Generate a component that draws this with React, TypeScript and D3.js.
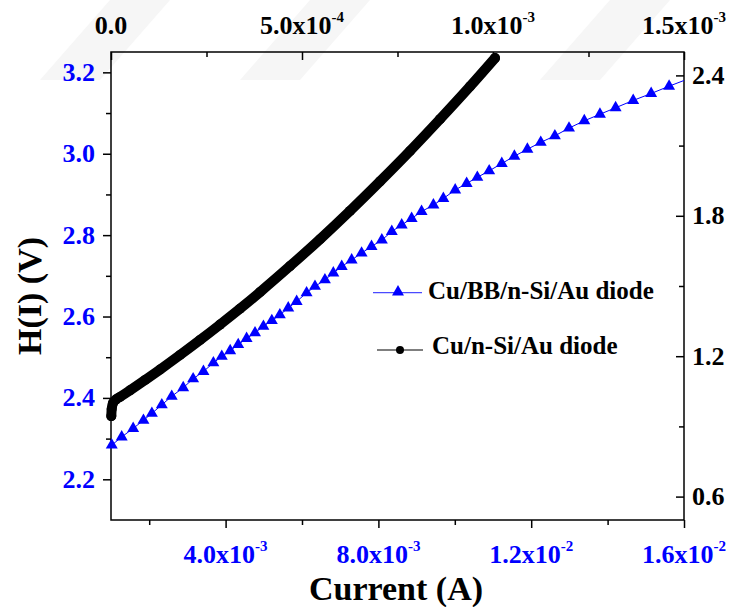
import React, { useEffect, useRef } from "react";
import * as d3 from "d3";

// Cu/BB/n-Si/Au diode (bottom + left axes, blue)
const bbCurrent = [
  1.02e-3, 1.28e-3, 1.58e-3, 1.85e-3, 2.07e-3, 2.33e-3, 2.59e-3, 2.89e-3, 3.15e-3, 3.42e-3,
  3.68e-3, 3.9e-3, 4.12e-3, 4.33e-3, 4.55e-3, 4.77e-3, 4.99e-3, 5.21e-3, 5.42e-3, 5.64e-3,
  5.86e-3, 6.12e-3, 6.34e-3, 6.6e-3, 6.82e-3, 7.04e-3, 7.3e-3, 7.56e-3, 7.82e-3, 8.09e-3,
  8.35e-3, 8.61e-3, 8.87e-3, 9.13e-3, 9.44e-3, 9.7e-3, 10.01e-3, 10.31e-3, 10.59e-3, 10.9e-3,
  11.23e-3, 11.56e-3, 11.9e-3, 12.25e-3, 12.62e-3, 12.99e-3, 13.39e-3, 13.8e-3, 14.21e-3, 14.67e-3,
  15.14e-3, 15.61e-3, 16.0e-3
];
const bbH = [
  2.284, 2.304, 2.325, 2.345, 2.362, 2.383, 2.404, 2.425, 2.447, 2.465,
  2.486, 2.502, 2.516, 2.531, 2.546, 2.56, 2.576, 2.59, 2.604, 2.621,
  2.637, 2.658, 2.674, 2.69, 2.707, 2.723, 2.739, 2.756, 2.772, 2.788,
  2.809, 2.825, 2.841, 2.858, 2.874, 2.89, 2.911, 2.927, 2.942, 2.958,
  2.976, 2.994, 3.011, 3.028, 3.044, 3.063, 3.081, 3.097, 3.113, 3.131,
  3.148, 3.166, 3.18
];
const bbMarkerCount = 52;

// Cu/n-Si/Au diode (top + right axes, black)
const refCurrent = [
  0.0008e-3, 0.0018e-3, 0.0052e-3, 0.0131e-3, 0.0236e-3, 0.0497e-3, 0.089e-3, 0.1283e-3,
  0.1806e-3, 0.233e-3, 0.2853e-3, 0.3377e-3, 0.3901e-3, 0.4686e-3, 0.5471e-3, 0.6257e-3,
  0.7042e-3, 0.7827e-3, 0.8613e-3, 0.9398e-3, 1.0052e-3
];
const refH = [
  0.944, 0.974, 1.0, 1.015, 1.026, 1.054, 1.098, 1.143,
  1.205, 1.269, 1.335, 1.403, 1.474, 1.585, 1.7, 1.821,
  1.947, 2.077, 2.213, 2.353, 2.474
];

const bottomMajor = [0.004, 0.008, 0.012, 0.016];
const bottomMinor = [0.002, 0.006, 0.01, 0.014];
const bottomLabels = [["4.0x10", "-3"], ["8.0x10", "-3"], ["1.2x10", "-2"], ["1.6x10", "-2"]];

const topMajor = [0, 0.0005, 0.001, 0.0015];
const topMinor = [0.00025, 0.00075, 0.00125];
const topLabels = [["0.0", ""], ["5.0x10", "-4"], ["1.0x10", "-3"], ["1.5x10", "-3"]];

const leftMajor = [2.2, 2.4, 2.6, 2.8, 3.0, 3.2];
const leftMinor = [2.3, 2.5, 2.7, 2.9, 3.1];
const rightMajor = [0.6, 1.2, 1.8, 2.4];
const rightMinor = [0.9, 1.5, 2.1];

const legendItems = ["Cu/BB/n-Si/Au diode", "Cu/n-Si/Au diode"];

const W = 730;
const H = 607;
const FONT = "'Liberation Serif', 'Times New Roman', serif";

export default function App() {
  const ref = useRef<SVGSVGElement>(null);

  useEffect(() => {
    const svg = d3.select(ref.current);
    svg.selectAll("*").remove();

    const left = 111, right = 684, top = 52, bottom = 520;

    const xB = d3.scaleLinear().domain([0.001, 0.016]).range([left, right]);
    const xT = d3.scaleLinear().domain([0, 0.0015]).range([left, right]);
    const yL = d3.scaleLinear().domain([2.1, 3.25]).range([bottom, top]);
    const yR = d3.scaleLinear().domain([0.5, 2.5]).range([bottom, top]);

    svg.append("rect").attr("width", W).attr("height", H).attr("fill", "#fff");

    // faint watermark stripes
    const stripes = [0, 200, 500];
    stripes.forEach((sx) => {
      svg.append("path")
        .attr("d", `M${sx + 40},80 L${sx + 110},0 L${sx + 170},0 L${sx + 100},80 Z`)
        .attr("fill", "#f6f6f6");
    });

    const tickAxis = (g: any, axis: any) => {
      g.call(axis);
      g.select(".domain").remove();
      g.selectAll("line").attr("stroke", "#000").attr("stroke-width", 1.5);
      g.selectAll("text").remove();
    };

    // bottom: outward
    svg.append("g").attr("transform", `translate(0,${bottom})`)
      .call((g: any) => tickAxis(g, d3.axisBottom(xB).tickValues(bottomMajor).tickSize(8)));
    svg.append("g").attr("transform", `translate(0,${bottom})`)
      .call((g: any) => tickAxis(g, d3.axisBottom(xB).tickValues(bottomMinor).tickSize(5)));
    // top: inward
    svg.append("g").attr("transform", `translate(0,${top})`)
      .call((g: any) => tickAxis(g, d3.axisTop(xT).tickValues(topMajor).tickSize(-8)));
    svg.append("g").attr("transform", `translate(0,${top})`)
      .call((g: any) => tickAxis(g, d3.axisTop(xT).tickValues(topMinor).tickSize(-5)));
    // left: outward
    svg.append("g").attr("transform", `translate(${left},0)`)
      .call((g: any) => tickAxis(g, d3.axisLeft(yL).tickValues(leftMajor).tickSize(8)));
    svg.append("g").attr("transform", `translate(${left},0)`)
      .call((g: any) => tickAxis(g, d3.axisLeft(yL).tickValues(leftMinor).tickSize(5)));
    // right: inward
    svg.append("g").attr("transform", `translate(${right},0)`)
      .call((g: any) => tickAxis(g, d3.axisRight(yR).tickValues(rightMajor).tickSize(-8)));
    svg.append("g").attr("transform", `translate(${right},0)`)
      .call((g: any) => tickAxis(g, d3.axisRight(yR).tickValues(rightMinor).tickSize(-5)));

    svg.append("rect")
      .attr("x", left).attr("y", top)
      .attr("width", right - left).attr("height", bottom - top)
      .attr("fill", "none").attr("stroke", "#000").attr("stroke-width", 1.5);

    // tick labels with superscripts
    const supLabel = (x: number, y: number, main: string, sup: string, color: string) => {
      const t = svg.append("text")
        .attr("x", x).attr("y", y)
        .attr("text-anchor", "middle")
        .attr("font-family", FONT).attr("font-weight", "bold")
        .attr("font-size", 26).attr("fill", color);
      t.append("tspan").text(main);
      if (sup) t.append("tspan").attr("dy", -12).attr("font-size", 15).text(sup);
    };
    bottomMajor.forEach((v, i) => supLabel(xB(v), 563, bottomLabels[i][0], bottomLabels[i][1], "#0000ff"));
    topMajor.forEach((v, i) => supLabel(xT(v), 34, topLabels[i][0], topLabels[i][1], "#000"));

    svg.append("g").selectAll("text").data(leftMajor).enter().append("text")
      .attr("x", 95).attr("y", (d) => yL(d) + 8.5)
      .attr("text-anchor", "end")
      .attr("font-family", FONT).attr("font-weight", "bold")
      .attr("font-size", 26).attr("fill", "#0000ff")
      .text((d) => d.toFixed(1));
    svg.append("g").selectAll("text").data(rightMajor).enter().append("text")
      .attr("x", 692).attr("y", (d) => yR(d) + 8.5)
      .attr("text-anchor", "start")
      .attr("font-family", FONT).attr("font-weight", "bold")
      .attr("font-size", 26).attr("fill", "#000")
      .text((d) => d.toFixed(1));

    // axis titles
    svg.append("text")
      .attr("x", 396).attr("y", 600)
      .attr("text-anchor", "middle")
      .attr("font-family", FONT).attr("font-weight", "bold").attr("font-size", 34)
      .text("Current (A)");
    svg.append("text")
      .attr("transform", "translate(41,296) rotate(-90)")
      .attr("text-anchor", "middle")
      .attr("font-family", FONT).attr("font-weight", "bold").attr("font-size", 34)
      .text("H(I) (V)");

    // black series
    const refPts = refCurrent.map((c, i) => [xT(c), yR(refH[i])] as [number, number]);
    svg.append("path")
      .attr("d", d3.line().curve(d3.curveMonotoneX)(refPts) as string)
      .attr("fill", "none").attr("stroke", "#000")
      .attr("stroke-width", 10).attr("stroke-linecap", "round").attr("stroke-linejoin", "round");
    svg.append("g").selectAll("circle").data(refPts).enter().append("circle")
      .attr("cx", (d) => d[0]).attr("cy", (d) => d[1]).attr("r", 5).attr("fill", "#000");

    // blue series
    const bbPts = bbCurrent.map((c, i) => [xB(c), yL(bbH[i])] as [number, number]);
    svg.append("path")
      .attr("d", d3.line()(bbPts) as string)
      .attr("fill", "none").attr("stroke", "#0000ff").attr("stroke-width", 1);
    const tri = d3.symbol().type(d3.symbolTriangle).size(62);
    svg.append("g").selectAll("path").data(bbPts.slice(0, bbMarkerCount)).enter().append("path")
      .attr("d", tri as any)
      .attr("transform", (d) => `translate(${d[0]},${d[1]})`)
      .attr("fill", "#0000ff");

    // legend
    const lg = svg.append("g");
    lg.append("line").attr("x1", 373).attr("x2", 422).attr("y1", 292.7).attr("y2", 292.7)
      .attr("stroke", "#4a4aff").attr("stroke-width", 1.2);
    lg.append("path").attr("d", tri as any).attr("transform", "translate(398,292)").attr("fill", "#0000ff");
    lg.append("text").attr("x", 428).attr("y", 299)
      .attr("font-family", FONT).attr("font-weight", "bold").attr("font-size", 25)
      .text(legendItems[0]);
    lg.append("line").attr("x1", 377).attr("x2", 423).attr("y1", 350).attr("y2", 350)
      .attr("stroke", "#555").attr("stroke-width", 1.5);
    lg.append("circle").attr("cx", 400).attr("cy", 350).attr("r", 4).attr("fill", "#000");
    lg.append("text").attr("x", 432).attr("y", 354)
      .attr("font-family", FONT).attr("font-weight", "bold").attr("font-size", 25)
      .text(legendItems[1]);
  }, []);

  return (
    <div style={{ position: "absolute", left: 0, top: 0 }}>
      <svg ref={ref} width={W} height={H} />
    </div>
  );
}
